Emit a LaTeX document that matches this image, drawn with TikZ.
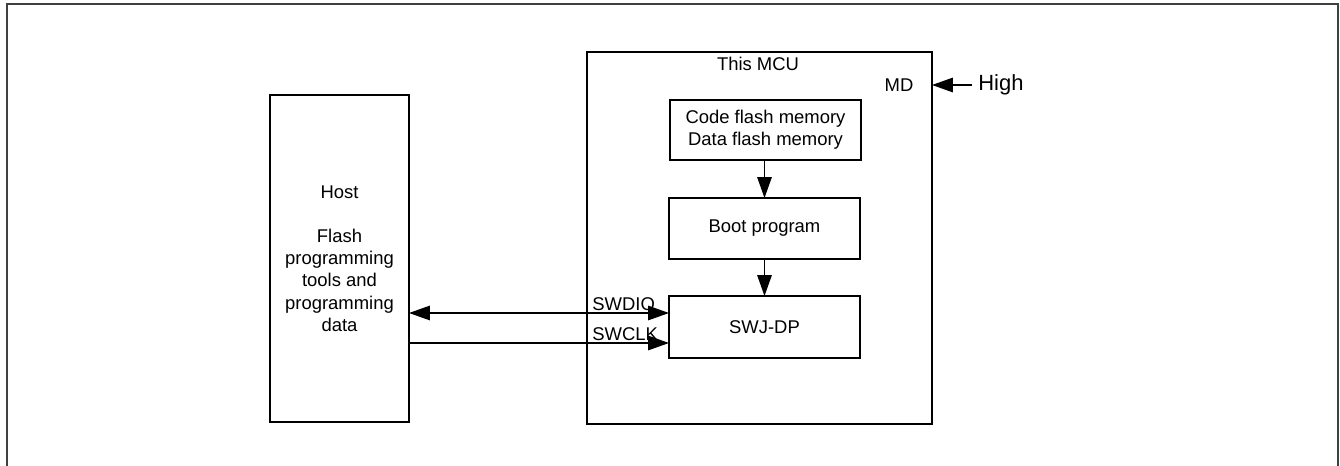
\documentclass[tikz,border=0pt]{standalone}
\usepackage{fontspec}
\setmainfont{Liberation Sans}
\usetikzlibrary{arrows.meta,positioning,calc}
\tikzset{
  block/.style={draw,line width=0.9pt,inner sep=0pt,outer sep=0pt,
    font=\fontsize{10.5}{12.6}\selectfont,align=center},
  lbl/.style={inner sep=0pt,font=\fontsize{10.5}{12.6}\selectfont},
  tip/.style={Triangle[length=4.2mm,width=2.9mm]},
  arrow/.style={-{Triangle[length=4.2mm,width=2.9mm]},line width=0.85pt},
  frame/.style={draw=black!75,line width=1.1pt}
}

\begin{document}
\begin{tikzpicture}[x=0.02cm,y=-0.02cm]
  \useasboundingbox (0,0) rectangle (1340,466);
  \draw[frame] (7,466) -- (7,4) -- (1338,4) -- (1338,466);

  % host side
  \node[block,minimum width=2.78cm,minimum height=6.54cm] (host) at (339.5,258.5)
    {Host\\[12.6pt]Flash\\programming\\tools and\\programming\\data};

  % the MCU and its blocks
  \node[block,minimum width=6.9cm,minimum height=7.44cm] (mcu) at (759.5,238) {};
  \node[lbl] (mcuname) at (758,64) {This MCU};
  \node[lbl] (md) at (899,85) {MD};
  \node[block,minimum width=3.82cm,minimum height=1.2cm] (flash) at (765.5,130)
    {Code flash memory\\Data flash memory};
  \node[block,minimum width=3.82cm,minimum height=1.22cm] (boot) at (764.5,228.5)
    {Boot program};
  \node[block,minimum width=3.82cm,minimum height=1.24cm] (swjdp) at (764.5,327)
    {SWJ-DP};

  \draw[arrow] (flash.south -| boot.north) -- (boot.north);
  \draw[arrow] (boot.south) -- (swjdp.north);

  % mode pin
  \node[inner sep=0pt,font=\fontsize{12.5}{15}\selectfont,anchor=west] (high) at (978,85) {High};
  \draw[arrow] ([xshift=-0.12cm]high.west) -- (mcu.east |- high);

  % debug lines
  \coordinate (dio) at (0,313);
  \coordinate (clk) at (0,343);
  \draw[arrow,{Triangle[length=4.2mm,width=2.9mm]}-{Triangle[length=4.2mm,width=2.9mm]}]
    (host.east |- dio) -- (swjdp.west |- dio);
  \draw[arrow] (host.east |- clk) -- (swjdp.west |- clk);
  \node[lbl,anchor=south west] (diolbl) at ([xshift=0.1cm,yshift=0.04cm]mcu.west |- dio) {SWDIO};
  \node[lbl,anchor=south west] (clklbl) at ([xshift=0.1cm,yshift=0.04cm]mcu.west |- clk) {SWCLK};
\end{tikzpicture}
\end{document}
